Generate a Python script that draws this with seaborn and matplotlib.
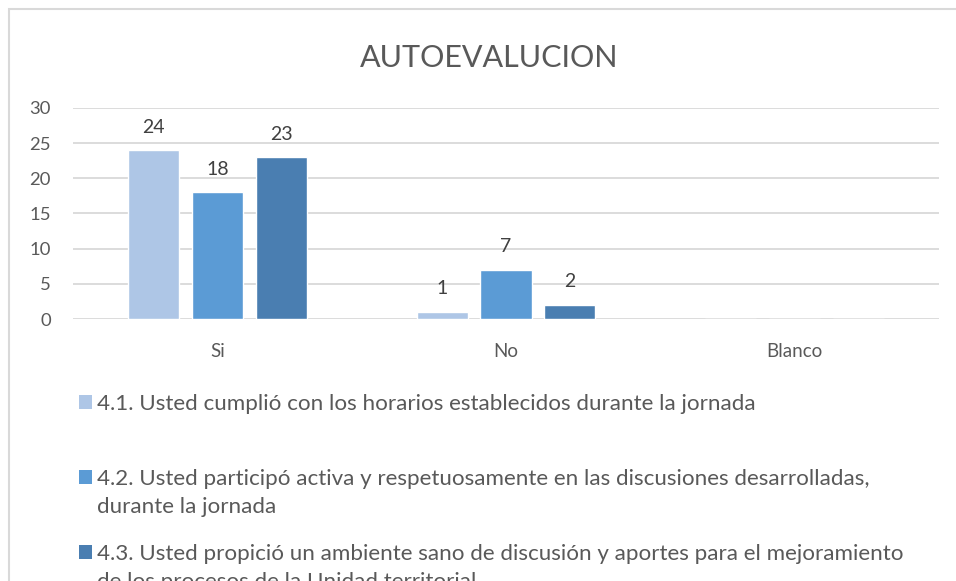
import matplotlib
matplotlib.use("Agg")
import matplotlib.pyplot as plt
import pandas as pd
import seaborn as sns
from matplotlib.patches import Patch, Rectangle

# Datos
categorias = ["Si", "No", "Blanco"]
valores_41 = [24, 1, 0]
valores_42 = [18, 7, 0]
valores_43 = [23, 2, 0]

# Texto de la leyenda (primera linea y continuacion)
leyenda_linea1 = [
    "4.1. Usted cumplió con los horarios establecidos durante la jornada",
    "4.2. Usted participó activa y respetuosamente en las discusiones desarrolladas,",
    "4.3. Usted propició un ambiente sano de discusión y aportes para el mejoramiento",
]
leyenda_linea2 = [
    "",
    "durante la jornada",
    "de los procesos de la Unidad territorial",
]
series = [(a + " " + b).strip() for a, b in zip(leyenda_linea1, leyenda_linea2)]
colores = ["#AEC6E6", "#5B9BD5", "#4A7EB1"]

df = pd.DataFrame({
    "categoria": categorias * 3,
    "serie": [series[0]] * 3 + [series[1]] * 3 + [series[2]] * 3,
    "valor": valores_41 + valores_42 + valores_43,
})

sns.set_theme(style="white")
plt.rcParams["font.family"] = ["Lato", "DejaVu Sans"]

W, H = 956, 581
fig = plt.figure(figsize=(W / 100, H / 100), dpi=100)
ax = fig.add_axes([73 / W, 1 - 319 / H, (939 - 73) / W, (319 - 108) / H])

sns.barplot(data=df, x="categoria", y="valor", hue="serie", order=categorias,
            hue_order=series, palette=colores, saturation=1, width=0.664,
            gap=0.2, ax=ax, legend=False)

ax.set_ylim(0, 30)
ax.set_xlim(-0.5, 2.5)
ax.set_yticks(range(0, 31, 5))
ax.set_xlabel("")
ax.set_ylabel("")
for s in ax.spines.values():
    s.set_visible(False)
ax.grid(axis="y", color="#D9D9D9", linewidth=1.3)
ax.set_axisbelow(True)
ax.tick_params(axis="y", length=0, pad=16, labelsize=13.3, labelcolor="#595959")
ax.tick_params(axis="x", length=0, pad=17, labelsize=13.5, labelcolor="#595959")

for cont in ax.containers:
    etiquetas = [str(int(v)) if v > 0 else "" for v in cont.datavalues]
    ax.bar_label(cont, labels=etiquetas, padding=10.5, fontsize=14, color="#404040")

fig.text(489 / W, 1 - 58 / H, "AUTOEVALUCION", ha="center", va="center",
         fontsize=22, color="#595959")

fs_ley = 16.1
handles = [Patch(facecolor=c, edgecolor="none") for c in colores]
leg = fig.legend(handles, leyenda_linea1, loc="upper left",
                 bbox_to_anchor=(79 / W, 1 - 394 / H), frameon=False,
                 borderpad=0, borderaxespad=0, fontsize=fs_ley,
                 handlelength=0.58, handleheight=0.58, handletextpad=0.23,
                 labelspacing=2.45, labelcolor="#595959")

# lineas de continuacion alineadas con el texto de la leyenda
fig.canvas.draw()
for txt, extra in zip(leg.get_texts(), leyenda_linea2):
    if not extra:
        continue
    bb = txt.get_window_extent()
    fig.text(bb.x0 / W, (bb.y0 - 28) / H, extra, ha="left", va="bottom",
             fontsize=fs_ley, color="#595959")

# borde del area del grafico
fig.add_artist(Rectangle((9 / W, -0.1), 2, 1.1 - 9.5 / H, fill=False,
                         edgecolor="#D9D9D9", linewidth=1.5,
                         transform=fig.transFigure))

fig.savefig("out.png", dpi=100)
